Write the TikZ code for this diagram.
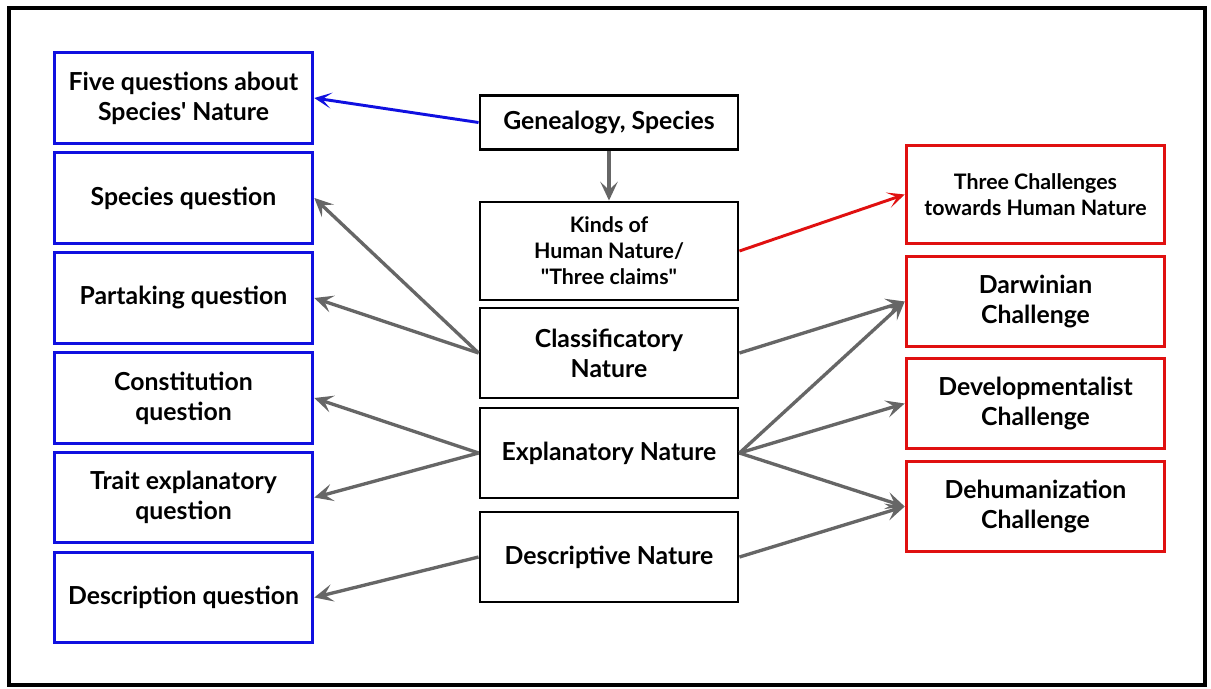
\documentclass[tikz,border=0pt]{standalone}
\usepackage{fontspec}
\setmainfont{Lato}
\usetikzlibrary{arrows.meta}
\definecolor{qblue}{HTML}{1010E0}
\definecolor{cred}{HTML}{E01010}
\definecolor{agray}{HTML}{666666}
\begin{document}
\begin{tikzpicture}[x=0.75pt,y=-0.75pt,
  base/.style={draw,line width=2.2pt,align=center,inner sep=0pt,font=\bfseries\fontsize{18.6}{22.5}\selectfont},
  qbox/.style={base,draw=qblue,minimum width=194pt,minimum height=68pt},
  cbox/.style={base,draw=black,minimum width=193.5pt},
  rbox/.style={base,draw=cred,minimum width=194pt,minimum height=68pt},
  small/.style={font=\bfseries\fontsize{16}{19.5}\selectfont},
  conn/.style={line width=2.5pt,draw=agray,-{Stealth[length=14pt,width=13pt,inset=6pt]}},
  bconn/.style={line width=2.2pt,draw=qblue,-{Stealth[length=13pt,width=12pt,inset=7pt]}},
  rconn/.style={line width=2.2pt,draw=cred,-{Stealth[length=13pt,width=12pt,inset=7pt]}}]
\useasboundingbox (0,0) rectangle (1211,689);
\fill[white] (0,0) rectangle (1211,689);
\draw[line width=3pt] (9,8) rectangle (1205,685);
% left
\node[qbox] (q1) at (183.5,98) {Five questions about\\Species\textquotesingle{} Nature};
\node[qbox] (q2) at (183.5,198) {Species question};
\node[qbox] (q3) at (183.5,298) {Partaking question};
\node[qbox] (q4) at (183.5,398) {Constitution\\question};
\node[qbox] (q5) at (183.5,497.5) {Trait explanatory\\question};
\node[qbox] (q6) at (183.5,597.5) {Description question};
% center
\node[cbox,minimum height=41pt] (gen) at (609,122.5) {Genealogy, Species};
\node[cbox,small,minimum height=73.5pt] (kinds) at (609,251) {Kinds of\\Human Nature/\\\textquotedbl Three claims\textquotedbl};
\node[cbox,minimum height=67.5pt] (cls) at (609,353) {Classificatory\\Nature};
\node[cbox,minimum height=67.5pt] (exp) at (609,453) {Explanatory Nature};
\node[cbox,minimum height=67.5pt] (des) at (609,557) {Descriptive Nature};
% right
\node[rbox,small,minimum height=74pt] (three) at (1035.5,194.5) {Three Challenges\\towards Human Nature};
\node[rbox] (dar) at (1035.5,301.5) {Darwinian\\Challenge};
\node[rbox] (dev) at (1035.5,403.5) {Developmentalist\\Challenge};
\node[rbox] (deh) at (1035.5,506.5) {Dehumanization\\Challenge};
% connectors
\draw[bconn] (gen.west) -- (q1.east);
\draw[conn] (gen.south) -- (kinds.north);
\draw[rconn] (kinds.east) -- (three.west);
\draw[conn] (cls.west) -- (q2.east);
\draw[conn] (cls.west) -- (q3.east);
\draw[conn] (exp.west) -- (q4.east);
\draw[conn] (exp.west) -- (q5.east);
\draw[conn] (des.west) -- (q6.east);
\draw[conn] (cls.east) -- (dar.west);
\draw[conn] (exp.east) -- (dar.west);
\draw[conn] (exp.east) -- (dev.west);
\draw[conn] (exp.east) -- (deh.west);
\draw[conn] (des.east) -- (deh.west);
\end{tikzpicture}
\end{document}
